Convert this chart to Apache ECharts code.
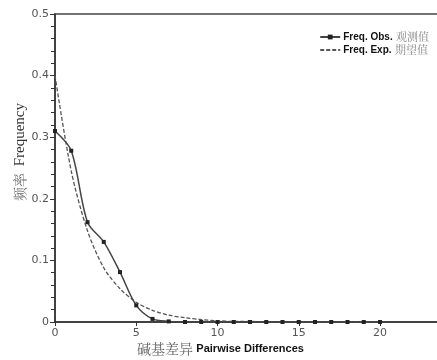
<!DOCTYPE html>
<html>
<head>
<meta charset="utf-8">
<script src="https://cdn.jsdelivr.net/npm/echarts@6/dist/echarts.min.js"></script>
<style>
  html, body { margin: 0; padding: 0; background: #fff; }
  #chart { width: 437px; height: 360px; }
</style>
</head>
<body>
<div id="chart"></div>
<script>
// pairwise differences 0..20
const diffs = [0, 1, 2, 3, 4, 5, 6, 7, 8, 9, 10, 11, 12, 13, 14, 15, 16, 17, 18, 19, 20];
const freqObs = [0.31, 0.278, 0.162, 0.130, 0.081, 0.027, 0.005, 0.001, 0, 0, 0, 0, 0, 0, 0, 0, 0, 0, 0, 0, 0];
const freqExp = [0.40, 0.245, 0.148, 0.088, 0.054, 0.032, 0.019, 0.011, 0.007, 0.004, 0.002, 0.001, 0.001, 0, 0, 0, 0, 0, 0, 0, 0];
const yTicks = [0, 0.1, 0.2, 0.3, 0.4, 0.5];
const xTicks = [0, 5, 10, 15, 20];

const el = document.getElementById('chart');
const myChart = echarts.init(el);

const pairs = arr => diffs.map((d, i) => [d, arr[i]]);

myChart.setOption({
  animation: false,
  grid: {
    left: 55,
    right: -8,
    top: 14,
    bottom: 38,
    outerBoundsMode: 'none',
    show: true,
    borderColor: '#444',
    borderWidth: 1.5
  },
  legend: {
    right: 3,
    top: 26,
    orient: 'vertical',
    itemWidth: 20,
    itemHeight: 6,
    itemGap: 1,
    data: [
      { name: 'obs' },
      { name: 'exp', itemStyle: { opacity: 0 } }
    ],
    formatter: function (name) {
      return name === 'obs'
        ? '{b|Freq. Obs.} {c|观测值}'
        : '{b|Freq. Exp.} {c|期望值}';
    },
    textStyle: {
      padding: [0, 0, 0, -2],
      rich: {
        b: { fontFamily: 'Liberation Sans Narrow, Arial', fontWeight: 'bold', fontSize: 10, color: '#111', letterSpacing: -0.3 },
        c: { fontFamily: 'Noto Serif CJK SC, Noto Sans CJK SC', fontSize: 11, color: '#888' }
      }
    }
  },
  xAxis: {
    type: 'value',
    min: 0,
    max: 24,
    interval: 5,
    axisLine: { onZero: false, lineStyle: { color: '#333', width: 1.5 } },
    axisTick: { show: true, length: 4, lineStyle: { color: '#333' }, customValues: xTicks },
    axisLabel: {
      color: '#555',
      fontSize: 11,
      fontFamily: 'DejaVu Sans',
      margin: 6,
      customValues: xTicks
    },
    splitLine: { show: false }
  },
  yAxis: {
    type: 'value',
    min: 0,
    max: 0.5,
    interval: 0.1,
    axisLine: { show: true, lineStyle: { color: '#333', width: 1.5 } },
    axisTick: { show: true, length: 5, lineStyle: { color: '#333' } },
    minorTick: { show: true, splitNumber: 5, length: 4, lineStyle: { color: '#333' } },
    axisLabel: {
      color: '#555',
      fontSize: 11,
      fontFamily: 'DejaVu Sans',
      margin: 6,
      formatter: v => (v === 0 ? '0' : v.toFixed(1))
    },
    splitLine: { show: false }
  },
  series: [
    {
      name: 'obs',
      type: 'line',
      smooth: 0.3,
      data: pairs(freqObs),
      symbol: 'rect',
      symbolSize: 4,
      itemStyle: { color: '#222' },
      lineStyle: { color: '#444', width: 1.5 },
      z: 3
    },
    {
      name: 'exp',
      type: 'line',
      smooth: 0.3,
      data: pairs(freqExp),
      symbol: 'none',
      itemStyle: { color: '#444' },
      lineStyle: { color: '#555', width: 1.3, type: [4, 2] },
      z: 2
    }
  ],
  graphic: [
    {
      type: 'text',
      left: 137,
      top: 342,
      style: {
        text: '{c|碱基差异} {b|Pairwise Differences}',
        rich: {
          c: { fontFamily: 'Noto Serif CJK SC, Noto Sans CJK SC', fontSize: 14, fill: '#666' },
          b: { fontFamily: 'Liberation Sans Narrow, Arial', fontWeight: 'bold', fontSize: 11, fill: '#111' }
        }
      }
    },
    {
      type: 'text',
      x: 20,
      y: 152,
      rotation: Math.PI / 2,
      style: {
        text: '{c|频率}  {e|Frequency}',
        align: 'center',
        verticalAlign: 'middle',
        rich: {
          c: { fontFamily: 'Noto Serif CJK SC, Noto Sans CJK SC', fontSize: 14, fill: '#666' },
          e: { fontFamily: 'Liberation Serif', fontSize: 15, fill: '#333' }
        }
      }
    }
  ]
});
</script>
</body>
</html>
